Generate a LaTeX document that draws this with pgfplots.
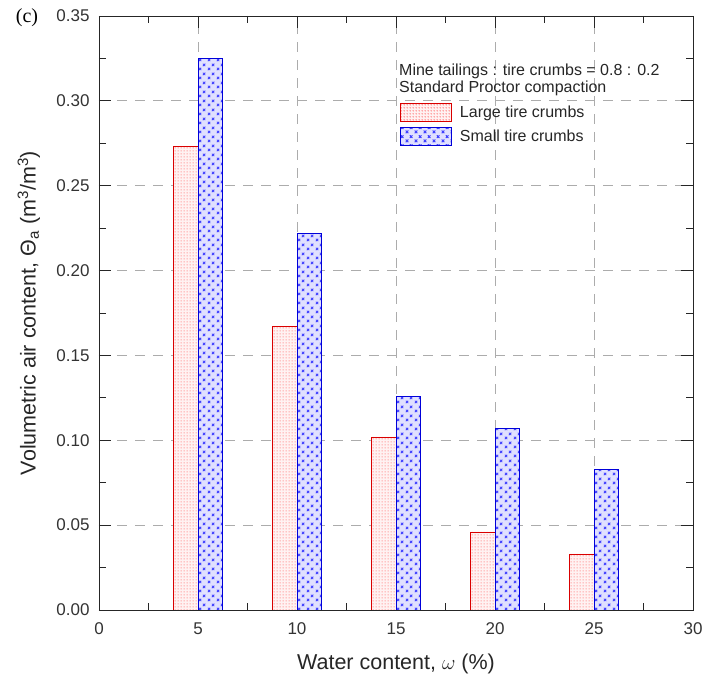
\documentclass[border=0pt]{standalone}
\usepackage{pgfplots}
\pgfplotsset{compat=1.18}
\usepackage{fontspec}
\setmainfont{Liberation Sans}
\newfontfamily\seriffont{Liberation Serif}
\usetikzlibrary{patterns,patterns.meta}

\tikzdeclarepattern{
  name=xgrid, type=uncolored,
  bottom left={(0pt,0pt)}, top right={(9pt,9pt)}, tile size={(9pt,9pt)},
  code={
    \draw[line width=0.8pt] (0.9pt,0.9pt)--(3.6pt,3.6pt) (0.9pt,3.6pt)--(3.6pt,0.9pt)
      (5.4pt,5.4pt)--(8.1pt,8.1pt) (5.4pt,8.1pt)--(8.1pt,5.4pt);
  }
}
\tikzdeclarepattern{
  name=finedots, type=uncolored,
  bottom left={(0pt,0pt)}, top right={(2.6pt,2.6pt)}, tile size={(2.6pt,2.6pt)},
  code={
    \fill (1.3pt,1.3pt) circle (0.6pt);
  }
}

\begin{document}
\begin{tikzpicture}
\begin{axis}[
  name=ax,
  scale only axis, width=594pt, height=594pt,
  xmin=0, xmax=30, ymin=0, ymax=0.35,
  xtick={0,5,10,15,20,25,30},
  ytick={0,0.05,0.10,0.15,0.20,0.25,0.30,0.35},
  minor x tick num=1, minor y tick num=1,
  tick align=inside,
  major tick length=12pt, minor tick length=7pt,
  every tick/.style={black!85, line width=0.8pt},
  axis line style={black!85, line width=0.9pt},
  /pgf/number format/assume math mode=true,
  yticklabel style={/pgf/number format/fixed, /pgf/number format/fixed zerofill, /pgf/number format/precision=2, xshift=-6pt},
  xticklabel style={yshift=-9pt},
  tick label style={font=\fontsize{17}{19}\selectfont, text=black!80},
  label style={font=\fontsize{21.5}{24}\selectfont, text=black!85},
  xlabel={Water content, $\omega$ (\%)},
  ylabel={Volumetric air content, Θ\textsubscript{a} (m\textsuperscript{3}/m\textsuperscript{3})},
  xlabel style={at={(axis description cs:0.5,-0.09)}, anchor=center},
  ylabel style={at={(axis description cs:-0.118,0.5)}, anchor=center},
  grid=major,
  major grid style={gray!65, dash pattern=on 10pt off 8pt, line width=0.8pt},
  legend style={at={(axis cs:15.2,0.2988)}, anchor=north west, draw=none, fill=none,
    inner sep=0pt, row sep=5pt, column sep=8pt,
    nodes={inner sep=0pt, font=\fontsize{16}{18}\selectfont, text=black!85}},
  legend cell align=left,
]
\addplot[ybar, bar width=1.25, bar shift=-0.625, draw=red!85!black, line width=0.7pt,
  fill=red!5, postaction={pattern=finedots, pattern color=red!55},
  legend image code/.code={\draw[draw=red!85!black, line width=0.7pt, fill=red!5,
    postaction={pattern=finedots, pattern color=red!55}] (0pt,-9pt) rectangle (51pt,9pt);}]
  coordinates {(5,0.273) (10,0.167) (15,0.102) (20,0.046) (25,0.033)};
\addlegendentry{Large tire crumbs}
\addplot[ybar, bar width=1.25, bar shift=0.625, draw=blue!85!black, line width=0.8pt,
  fill=blue!12, postaction={pattern=xgrid, pattern color=blue!75},
  legend image code/.code={\draw[draw=blue!85!black, line width=0.8pt, fill=blue!12,
    postaction={pattern=xgrid, pattern color=blue!75}] (0pt,-9pt) rectangle (51pt,9pt);}]
  coordinates {(5,0.325) (10,0.222) (15,0.126) (20,0.107) (25,0.083)};
\addlegendentry{Small tire crumbs}
\node[anchor=west, inner sep=0pt, font=\fontsize{16}{18}\selectfont, text=black!85]
  at (axis cs:15.15,0.3176) {Mine tailings : tire crumbs = 0.8 : 0.2};
\node[anchor=west, inner sep=0pt, font=\fontsize{16}{18}\selectfont, text=black!85]
  at (axis cs:15.15,0.3076) {Standard Proctor compaction};
\end{axis}
\node[font=\seriffont\fontsize{20}{22}\selectfont] at ([shift={(-72pt,-2pt)}]ax.north west) {(c)};
\pgfresetboundingbox
\path[use as bounding box] ([shift={(-99pt,-73pt)}]ax.south west) rectangle ([shift={(13pt,16pt)}]ax.north east);
\end{tikzpicture}
\end{document}
